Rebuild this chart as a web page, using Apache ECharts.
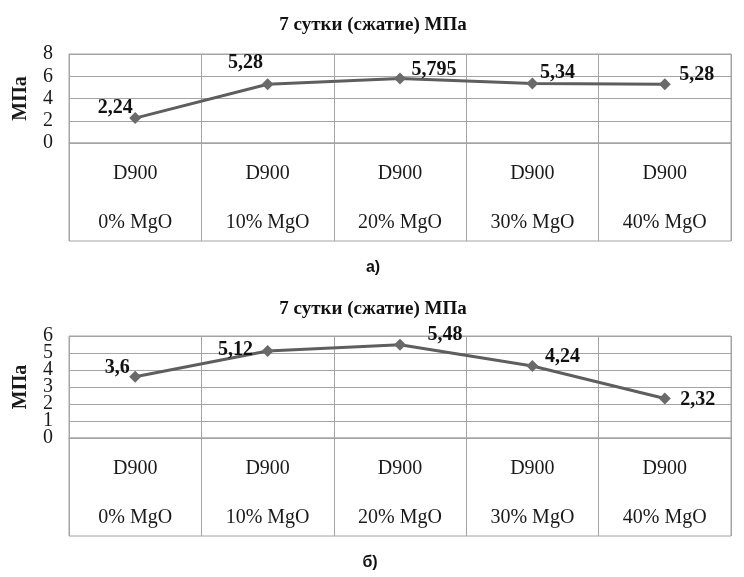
<!DOCTYPE html>
<html><head><meta charset="utf-8">
<script src="https://cdn.jsdelivr.net/npm/echarts@6/dist/echarts.min.js"></script>
<style>html,body{margin:0;padding:0;background:#fff}#c{width:744px;height:577px}</style>
</head><body><div id="c"></div>
<script>
const categories = ['D900\n0% MgO','D900\n10% MgO','D900\n20% MgO','D900\n30% MgO','D900\n40% MgO'];
const titleText = '7 сутки (сжатие) МПа';
const yName = 'МПа';
const valuesA = [2.24, 5.28, 5.795, 5.34, 5.28];
const valuesB = [3.6, 5.12, 5.48, 4.24, 2.32];
const yTicksA = [0, 2, 4, 6, 8];
const yTicksB = [0, 1, 2, 3, 4, 5, 6];
const subA = 'а)';
const subB = 'б)';
// label offsets (placement only)
const offA = [[-20,-10],[-22,-21],[34,-9],[25,-11],[32,-9]];
const offB = [[-18,-9],[-32,-1],[45,-10],[30,-9],[33,1]];

const serif = '"Liberation Serif", "DejaVu Serif", serif';
const gridColor = '#a4a4a4';
const fmt = v => String(v).replace('.', ',');

function mkData(vals, offs){
  return vals.map((v,i)=>({value: v, label: {offset: offs[i]}}));
}

const chart = echarts.init(document.getElementById('c'), null, {renderer:'canvas'});
const plots = [
  {top: 54, height: 89, ticks: yTicksA},
  {top: 336, height: 102, ticks: yTicksB}
];
const grids = [], xAxes = [], yAxes = [], extraY = [];
const labelStyle = {margin: 16, fontFamily: serif, fontSize: 20, color:'#1a1a1a', hideOverlap: false};
plots.forEach((p,k)=>{
  const t = p.ticks;
  const dense = t.length > 5;
  grids.push({left: 69, right: 13, top: p.top, height: p.height, show: true, borderColor: gridColor, borderWidth: 1, backgroundColor: 'transparent'});
  grids.push({left: 69, right: 13, top: p.top + p.height, height: 98, show: true, borderColor: gridColor, borderWidth: 1, backgroundColor: 'transparent'});
  xAxes.push({type:'category', gridIndex: 2*k, data: categories, boundaryGap: true,
    axisLine:{show:true, lineStyle:{color: gridColor}}, axisTick:{show:false},
    splitLine:{show:true, lineStyle:{color: gridColor, width:1}},
    axisLabel:{show:true, interval:0, margin: 6, fontFamily: serif, fontSize: 20, color:'#1a1a1a', lineHeight: 49,
      formatter: v => v}});
  xAxes.push({type:'category', gridIndex: 2*k+1, data: categories, boundaryGap: true,
    axisLine:{show:false}, axisTick:{show:false}, axisLabel:{show:false},
    splitLine:{show:true, lineStyle:{color: gridColor, width:1}}});
  const evenVals = dense ? t.filter((v,i)=>i%2===0) : t;
  yAxes.push({type:'value', gridIndex: 2*k, min: t[0], max: t[t.length-1], interval: t[1]-t[0],
    name: yName, nameLocation:'middle', nameGap: 38, nameRotate: 90,
    nameTextStyle:{fontFamily: serif, fontWeight:'bold', fontSize: 20, color:'#1a1a1a'},
    axisLine:{show:false}, axisTick:{show:false},
    splitLine:{show:true, lineStyle:{color: gridColor, width:1}},
    axisLabel:Object.assign({customValues: evenVals, showMinLabel: true, showMaxLabel: true}, labelStyle)});
  yAxes.push({type:'value', gridIndex: 2*k+1, show:false, min:0, max:1, splitLine:{show:false}});
  if (dense) {
    extraY.push({type:'value', gridIndex: 2*k, min: t[0], max: t[t.length-1], interval: t[1]-t[0], position:'left',
      axisLine:{show:false}, axisTick:{show:false}, splitLine:{show:false},
      axisLabel:Object.assign({customValues: t.filter((v,i)=>i%2===1)}, labelStyle)});
  }
});
yAxes.push(...extraY);

const seriesList = [valuesA, valuesB].map((vals,k)=>({
  type:'line', xAxisIndex: 2*k, yAxisIndex: 2*k,
  data: mkData(vals, k===0?offA:offB),
  symbol:'diamond', symbolSize: 12,
  lineStyle:{color:'#5e5e5e', width: 3},
  itemStyle:{color:'#6a6a6a'},
  label:{show:true, position:'inside', fontFamily: serif, fontWeight:'bold', fontSize: 20, color:'#111',
    formatter: p => fmt(p.value)},
  animation:false
}));

chart.setOption({
  animation:false,
  title:[
    {text: titleText, left: 368, top: 11, textAlign:'center', textStyle:{fontFamily: serif, fontWeight:'bold', fontSize: 19, color:'#111'}},
    {text: subA, left: 368, top: 255, textAlign:'center', textStyle:{fontFamily:'"Liberation Sans", Arial, sans-serif', fontWeight:'bold', fontSize: 16, color:'#111'}},
    {text: titleText, left: 368, top: 295, textAlign:'center', textStyle:{fontFamily: serif, fontWeight:'bold', fontSize: 19, color:'#111'}},
    {text: subB, left: 365, top: 550, textAlign:'center', textStyle:{fontFamily:'"Liberation Sans", Arial, sans-serif', fontWeight:'bold', fontSize: 16, color:'#111'}}
  ],
  grid: grids, xAxis: xAxes, yAxis: yAxes, series: seriesList
});
</script></body></html>
